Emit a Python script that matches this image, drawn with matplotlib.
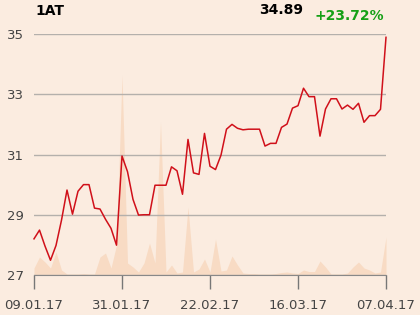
import matplotlib
matplotlib.use('Agg')
import matplotlib.pyplot as plt
import numpy as np

# Kurs (Handelstage 09.01.17 - 07.04.17)
kurs = [28.20, 28.49, 27.96, 27.49, 27.98, 28.82, 29.82, 29.02, 29.78, 30.00,
        30.00, 29.22, 29.19, 28.85, 28.55, 27.99, 30.95, 30.43, 29.51, 28.99,
        29.00, 29.00, 29.98, 29.98, 29.98, 30.59, 30.46, 29.68, 31.50, 30.39,
        30.34, 31.70, 30.61, 30.50, 30.98, 31.84, 32.00, 31.87, 31.82, 31.84,
        31.84, 31.84, 31.28, 31.37, 31.37, 31.90, 32.01, 32.54, 32.62, 33.20,
        32.92, 32.92, 31.61, 32.51, 32.85, 32.85, 32.51, 32.64, 32.50, 32.70,
        32.07, 32.29, 32.29, 32.50, 34.89]

# Umsatz (relative Einheiten)
umsatz = [7, 18, 13, 7, 23, 5, 1, 1, 1, 1.5,
          1, 1, 18, 22, 7, 30, 200, 12, 8, 3,
          12, 32, 12, 153, 3, 10, 2, 3, 68, 3,
          6, 16, 3, 36, 4, 5, 19, 10, 2, 1.5,
          1.5, 1, 1, 1, 1.5, 2.5, 3, 2, 1.5, 5,
          3.5, 3.5, 14, 8, 1, 1, 1, 2, 8, 13,
          7, 5, 2, 3, 38]

datum_labels = ['09.01.17', '31.01.17', '22.02.17', '16.03.17', '07.04.17']
datum_pos = [0, 16, 32, 48, 64]

titel = '1AT'
letzter = '34.89'
aenderung = '+23.72%'

bg = '#fbece0'
idx = np.arange(len(kurs))

fig = plt.figure(figsize=(4.2, 3.15), dpi=100, facecolor=bg)
ax = fig.add_axes([34/420, 1 - 275/315, 352/420, 241/315])
ax_vol = ax.twinx()

# Umsatz hinten, Kurs vorne
ax.set_zorder(ax_vol.get_zorder() + 1)
ax.patch.set_visible(False)
ax_vol.set_facecolor(bg)

ax_vol.fill_between(idx, umsatz, 0, color='#f8dbc4', linewidth=0)
ax_vol.set_ylim(0, 241)
ax_vol.set_yticks([])
for s in ax_vol.spines.values():
    s.set_visible(False)

ax.plot(idx, kurs, color='#d0101a', linewidth=1.1, clip_on=False)
ax.set_ylim(27, 35)
ax.set_xlim(0, 64)
ax.set_yticks([27, 29, 31, 33, 35])
ax.grid(axis='y', color='#b4b0ac', linewidth=1)
ax.set_axisbelow(True)
ax.tick_params(axis='y', length=0, pad=7, labelsize=9.5, labelcolor='#444444')

ax.set_xticks(datum_pos)
ax.set_xticklabels(datum_labels)
ax.tick_params(axis='x', length=10, width=1, color='#777777', pad=7,
               labelsize=9.5, labelcolor='#444444')

for s in ['top', 'right', 'left']:
    ax.spines[s].set_visible(False)
ax.spines['bottom'].set_color('#888888')

fig.text(35/420, 1 - 11/315, titel, fontsize=10, fontweight='bold', va='center', ha='left')
fig.text(303/420, 1 - 10/315, letzter, fontsize=10, fontweight='bold', va='center', ha='right')
fig.text(384/420, 1 - 16/315, aenderung, fontsize=10, fontweight='bold', color='#16a016',
         va='center', ha='right')

fig.savefig('out.png', dpi=100, facecolor=bg)
